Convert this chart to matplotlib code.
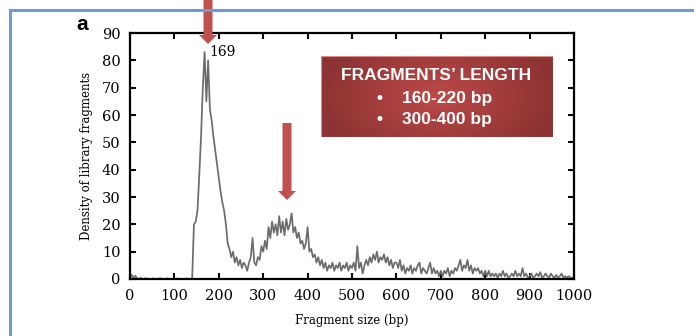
import numpy as np
import matplotlib
matplotlib.use("Agg")
import matplotlib.pyplot as plt
from matplotlib.patches import Polygon, Rectangle
from matplotlib.lines import Line2D

# Fragment size (bp), one reading every 4 bp from 0 to 1000
sizes = np.arange(0, 1001, 4)

# Density of library fragments
density = [
    # 0 - 96
    0.5, 1.5, 0.3, 1.2, 0.2, 0, 0.4, 0, 0, 0.3, 0, 0, 0, 0.2, 0, 0, 0, 0.3, 0, 0, 0, 0.2, 0, 0, 0,
    # 100 - 196
    0, 0, 0.2, 0, 0, 0, 0, 0.2, 0, 0, 0, 20, 21, 25, 38, 52, 70, 83, 65, 80, 62, 58, 52, 47, 42,
    # 200 - 296
    37, 32, 28, 25, 20, 13, 11, 8, 10, 6, 8, 5, 7, 4, 6, 5, 3, 6, 8, 15, 6, 5, 8, 7, 12,
    # 300 - 396
    10, 14, 11, 19, 15, 21, 17, 20, 16, 23, 17, 21, 16, 22, 18, 20, 24, 17, 19, 15, 17, 13, 14, 11, 13,
    # 400 - 496
    19, 10, 11, 8, 9, 6, 8, 5, 7, 4, 6, 3, 5, 4, 6, 3, 5, 4, 6, 3, 5, 4, 6, 3, 5,
    # 500 - 596
    4, 6, 3, 12, 4, 6, 2, 5, 7, 5, 8, 6, 9, 7, 10, 6, 8, 7, 9, 6, 8, 5, 7, 4, 6,
    # 600 - 696
    6, 4, 7, 3, 5, 2, 4, 3, 5, 2, 4, 3, 5, 6, 2, 4, 3, 2, 4, 6, 2, 4, 2, 3, 1,
    # 700 - 796
    3, 1, 3, 2, 4, 1, 3, 2, 4, 3, 5, 7, 3, 5, 4, 7, 3, 5, 2, 4, 3, 4, 2, 3, 1,
    # 800 - 896
    3, 1, 3, 1, 2, 1, 2, 0.5, 2, 1, 3, 1, 2, 0.5, 1, 2, 1, 3, 1, 2, 1, 4, 1, 2, 0.5,
    # 900 - 1000
    1, 2, 0.5, 1, 2, 1, 2.5, 0.5, 1, 2, 1, 0.5, 2, 1, 0.5, 1.5, 0.5, 1, 2, 0.5, 1, 0.5, 1, 0.5, 0.5, 0.5,
]

peak_label = "169"
legend_title = "FRAGMENTS\u2019 LENGTH"
legend_items = ["160-220 bp", "300-400 bp"]

W, H = 694, 336
fig = plt.figure(figsize=(W / 100, H / 100), dpi=100)
fig.patch.set_facecolor("white")


def px(x, y):
    # pixel position (top-left origin) -> figure fraction
    return (x / W, 1 - y / H)


serif = "DejaVu Serif"

ax = fig.add_axes([130 / W, 1 - 279 / H, (574 - 130) / W, (279 - 33) / H])
ax.plot(sizes, density, color="#6c6c6c", lw=1.25)
ax.set_xlim(0, 1000)
ax.set_ylim(0, 90)
ax.set_xticks(range(0, 1001, 100))
ax.set_yticks(range(0, 91, 10))
ax.tick_params(direction="in", length=4, width=1.5, top=True, right=True,
               labelsize=10.5, pad=7)
for lab in ax.get_xticklabels() + ax.get_yticklabels():
    lab.set_family(serif)
for s in ax.spines.values():
    s.set_linewidth(1.6)
ax.set_xlabel("Fragment size (bp)", family=serif, fontsize=8.5, labelpad=8)
ax.set_ylabel("Density of library fragments", family=serif, fontsize=8.5, labelpad=6)

ax.text(178, 83, peak_label, family=serif, fontsize=10, ha="left", va="center")

# panel letter
fig.text(*px(82, 24), "a", fontsize=15, fontweight="bold", family="Liberation Sans",
         ha="center", va="center")

# blue frame
blue = "#6d9bd2"
fig.add_artist(Line2D([10 / W, 1], [1 - 10 / H, 1 - 10 / H], color=blue, lw=2.2,
                      transform=fig.transFigure))
fig.add_artist(Line2D([10 / W, 10 / W], [0, 1 - 10 / H], color=blue, lw=2.2,
                      transform=fig.transFigure))

# red arrows
red = "#c0504d"


def arrow(xc, y0, y1, shaft=9, head=18, head_len=9):
    pts = [px(xc - shaft / 2, y0), px(xc + shaft / 2, y0),
           px(xc + shaft / 2, y1 - head_len), px(xc + head / 2, y1 - head_len),
           px(xc, y1), px(xc - head / 2, y1 - head_len),
           px(xc - shaft / 2, y1 - head_len)]
    fig.add_artist(Polygon(pts, closed=True, color=red, transform=fig.transFigure, lw=0))


arrow(208, 0, 44)
arrow(287, 123, 200)

# red gradient box
bx0, by0, bx1, by1 = 321, 56, 553, 137
bax = fig.add_axes([bx0 / W, 1 - by1 / H, (bx1 - bx0) / W, (by1 - by0) / H])
gx = np.linspace(-1, 1, 200)
gy = np.linspace(-1, 1, 80)
GX, GY = np.meshgrid(gx, gy)
r = np.clip(np.sqrt(GX ** 2 + (GY * 0.6) ** 2), 0, 1)
c_in = np.array([0xbc, 0x4a, 0x48]) / 255
c_out = np.array([0x8e, 0x33, 0x33]) / 255
img = c_in[None, None, :] * (1 - r[..., None]) + c_out[None, None, :] * r[..., None]
bax.imshow(img, aspect="auto", extent=[0, 1, 0, 1])
bax.set_xlim(0, 1)
bax.set_ylim(0, 1)
bax.axis("off")
bax.add_patch(Rectangle((0, 0), 1, 1, fill=False, ec="#d98c8a", lw=0.8,
                        transform=bax.transAxes))

fig.text(*px(436, 75), legend_title, color="white", fontsize=12.5, fontweight="bold",
         family="Liberation Sans", ha="center", va="center")
for i, item in enumerate(legend_items):
    yy = 98 + 21 * i
    fig.text(*px(380, yy), "\u2022", color="white", fontsize=12.5, fontweight="bold",
             family="Liberation Sans", ha="center", va="center")
    fig.text(*px(402, yy), item, color="white", fontsize=12.5, fontweight="bold",
             family="Liberation Sans", ha="left", va="center")

fig.savefig("out.png", dpi=100)
